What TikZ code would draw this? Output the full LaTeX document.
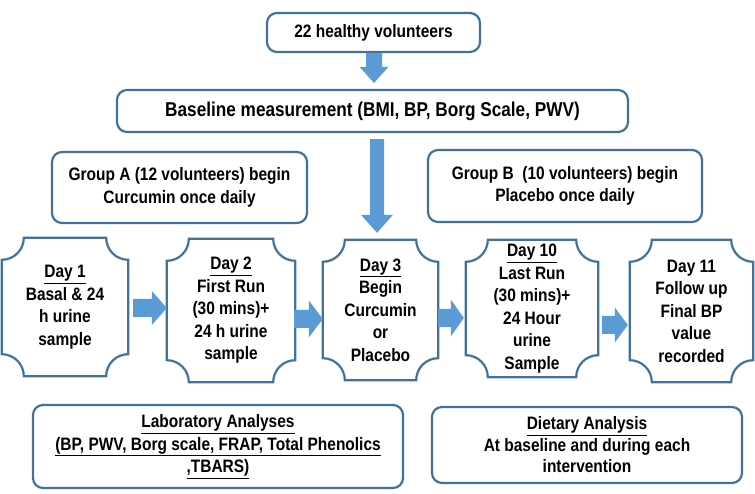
\documentclass[tikz,border=0pt]{standalone}
\usepackage{fontspec}
\setmainfont{Liberation Sans}[FakeStretch=0.86]
\usetikzlibrary{calc}

\definecolor{boxline}{RGB}{65,113,156}
\definecolor{arrowblue}{RGB}{91,155,213}

\tikzset{
	txt/.style={font=\fontsize{18}{22.5}\selectfont\bfseries, align=center, inner sep=0pt},
	rbox/.style={txt, draw=boxline, line width=2.2pt, rounded corners=10pt},
	plaque/.style={draw=boxline, line width=2.2pt},
	arrowfill/.style={fill=arrowblue},
}

% fat block arrow: from, to, half shaft, half head, head length
\newcommand{\fatarrow}[5]{%
	\fill[arrowfill] let \p1=(#1), \p2=(#2), \n1={atan2(\y2-\y1,\x2-\x1)} in
		($(\p1)+(\n1+90:#3)$) -- ($(\p2)+(\n1+180:#5)+(\n1+90:#3)$)
		-- ($(\p2)+(\n1+180:#5)+(\n1+90:#4)$) -- (\p2)
		-- ($(\p2)+(\n1+180:#5)+(\n1-90:#4)$) -- ($(\p2)+(\n1+180:#5)+(\n1-90:#3)$)
		-- ($(\p1)+(\n1-90:#3)$) -- cycle;}

\begin{document}
\begin{tikzpicture}[x=1pt,y=1pt]
		\useasboundingbox (0,0) rectangle (755,493);
		\node[rbox, minimum width=213pt, minimum height=39pt] (vol) at (373.5,460.5) {22 healthy volunteers};
		\node[rbox, minimum width=511pt, minimum height=42pt, font=\fontsize{20}{24}\selectfont\bfseries] (base) at (372.5,382) {Baseline measurement (BMI, BP, Borg Scale, PWV)};
		\node[rbox, minimum width=255pt, minimum height=71pt] (grpA) at (179.5,305.5) {Group A (12 volunteers) begin\\Curcumin once daily};
		\node[rbox, minimum width=274pt, minimum height=72pt] (grpB) at (565,307) {Group B \ (10 volunteers) begin\\Placebo once daily};

		% day boxes
		\node[txt, minimum width=126pt, minimum height=138pt] (day1) at (65,186) {\underline{Day 1}\\Basal \& 24\\h urine\\sample};
		\node[txt, minimum width=128pt, minimum height=143pt] (day2) at (231,182.5) {\underline{Day 2}\\First Run\\(30 mins)+\\24 h urine\\sample};
		\node[txt, minimum width=115pt, minimum height=140pt] (day3) at (380.5,183) {\underline{Day 3}\\Begin\\Curcumin\\or\\Placebo};
		\node[txt, minimum width=132pt, minimum height=137pt] (day10) at (532,184.5) {\underline{Day 10}\\Last Run\\(30 mins)+\\24 Hour\\urine\\Sample};
		\node[txt, minimum width=123pt, minimum height=142pt] (day11) at (691.5,182) {Day 11\\Follow up\\Final BP\\value\\recorded};
		\foreach \n in {day1,day2,day3,day10,day11}
			\draw[plaque] ($(\n.north west)+(22,0)$) -- ($(\n.north east)+(-22,0)$)
				arc[start angle=180, end angle=270, radius=22pt] -- ($(\n.south east)+(0,22)$)
				arc[start angle=90, end angle=180, radius=22pt] -- ($(\n.south west)+(22,0)$)
				arc[start angle=0, end angle=90, radius=22pt] -- ($(\n.north west)+(0,-22)$)
				arc[start angle=270, end angle=360, radius=22pt] -- cycle;

		\node[rbox, minimum width=370pt, minimum height=83pt] (lab) at (218,46.5) {\underline{Laboratory Analyses}\\\underline{(BP, PWV, Borg scale, FRAP, Total Phenolics}\\\underline{,TBARS)}};
		\node[rbox, minimum width=310pt, minimum height=76pt, font=\fontsize{18}{21.5}\selectfont\bfseries] (diet) at (587,48) {\underline{Dietary Analysis}\\At baseline and during each\\intervention};

		% arrows
		\coordinate (a0s) at ($(vol.south)+(0.5,0)$);
		\coordinate (a0e) at ($(a0s |- base.north)+(0,6)$);
		\coordinate (a1s) at ($(base.south)+(4.5,-6)$);
		\coordinate (a1e) at ($(a1s |- day3.north)+(0,7)$);
		\coordinate (a2s) at ($(day1.east)+(5,-1)$);
		\coordinate (a2e) at (day2.west |- a2s);
		\coordinate (a3s) at ($(day2.east)+(-1,-8.5)$);
		\coordinate (a3e) at (day3.west |- a3s);
		\coordinate (a4s) at ($(day3.east)+(0,-8)$);
		\coordinate (a4e) at ($(day10.west |- a4s)+(-2,0)$);
		\coordinate (a5s) at ($(day10.east)+(4,-16.5)$);
		\coordinate (a5e) at ($(day11.west |- a5s)+(-2,0)$);
		\fatarrow{a0s}{a0e}{8pt}{14.5pt}{16pt}
		\fatarrow{a1s}{a1e}{7pt}{16pt}{18pt}
		\fatarrow{a2s}{a2e}{9pt}{17pt}{15pt}
		\fatarrow{a3s}{a3e}{9pt}{18.5pt}{14pt}
		\fatarrow{a4s}{a4e}{9pt}{18.5pt}{13pt}
		\fatarrow{a5s}{a5e}{9pt}{17.5pt}{13pt}
	\end{tikzpicture}
\end{document}
